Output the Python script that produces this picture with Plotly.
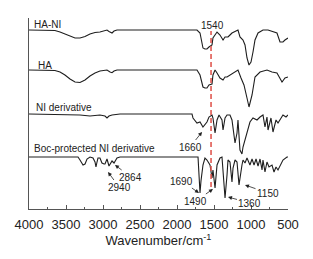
import plotly.graph_objects as go

# ---- data (wavenumber in cm^-1, relative transmittance, arbitrary units) ----
ha_ni_wn = [4000, 3851, 3649, 3581, 3514, 3446, 3378, 3311, 3243, 3176, 3108, 3041, 2986, 2946, 2919, 2878, 2851, 2811, 2365,
            1730, 1689, 1649, 1622, 1595, 1568, 1541, 1527, 1514, 1486, 1459, 1419, 1378, 1351, 1311, 1284, 1257, 1203, 1176,
            1149, 1108, 1081, 1054, 1027, 1000, 973, 946, 905, 838, 770, 703, 649, 608, 568, 541, 500]
ha_ni_t = [0, 0, -0.5, -2, -4, -6.5, -8, -8, -6.5, -4, -2.5, -2, -1, 0, -1.5, -3, -1, 0, 0,
           0, -3, -18, -19, -19, -17, -16, -15, -8, -5, -2, -5, -10, -7, -7, -5, -3, -1, 0,
           -7, -10, -15, -28, -35, -32, -22, -10, -3, 0, 0, -2, -3, -12, -12, -10, -8]

ha_wn = [4000, 3649, 3581, 3514, 3446, 3378, 3311, 3243, 3176, 3108, 3041, 2986, 2946, 2905, 2878, 2851, 2811, 2365,
         1730, 1689, 1649, 1622, 1595, 1568, 1527, 1514, 1486, 1459, 1419, 1378, 1351, 1324, 1284, 1216, 1176,
         1135, 1095, 1054, 1027, 986, 946, 878, 784, 716, 649, 581, 541, 500]
ha_t = [0, -0.5, -2, -5, -9, -12, -12.5, -10, -6, -3, -1, 0, 0, -2, -2.7, -1, 0, 0,
        0, -5, -17, -18, -18, -15, -14, -5, 0, -3, -8, -10, -7, -7, -5, -2, 0,
        -8, -15, -28, -37, -25, -7, -2, 0, -2, -3, -12, -8, -7]

ni_wn = [4000, 3581, 3311, 3176, 3041, 2973, 2946, 2919, 2878, 2770, 1797, 1784, 1730, 1689, 1649, 1595, 1568, 1527,
         1514, 1486, 1459, 1432, 1392, 1378, 1351, 1324, 1284, 1257, 1243, 1216, 1189, 1176, 1149, 1122, 1108, 1054,
         1014, 973, 919, 878, 838, 811, 784, 770, 730, 703, 662, 635, 595, 568, 527, 500]
ni_t = [0, -0.5, -1, -2, -1, -2, -4, -2, -1, 0, 0, -4, -9, -8, -13, -8, -3, -1,
        -4, -19, -6, -1, -6, -16, -4, -1, -1, -6, -16, -29, -19, -6, -36, -40, -33, -18,
        -8, -4, -6, -3, -1, -13, -3, -16, -4, -18, -6, -9, -4, -1, -3, -1]

boc_wn = [4000, 3338, 3311, 3270, 3243, 3216, 3176, 3135, 3108, 3095, 3081, 3068, 3041, 3014, 2986, 2973, 2946, 2919,
          2878, 2851, 2811, 2770, 1716, 1703, 1689, 1676, 1649, 1622, 1595, 1554, 1527, 1514, 1486, 1459, 1446, 1419,
          1392, 1378, 1351, 1324, 1311, 1284, 1257, 1243, 1216, 1189, 1162, 1122, 1108, 1081, 1054, 1014, 986, 959,
          932, 905, 878, 851, 838, 811, 784, 757, 716, 689, 662, 635, 595, 568, 514, 500]
boc_t = [0, 0, -3, -8, -7, -2, 0, -1, -5, -10, -5, -1, -1, -6, -7, -7, -2, -9,
         -4, -6, -1, 0, 0, -18, -36, -24, -8, -1, -3, -8, -21, -13, -31, -8, -6, -1,
         0, -15, -41, -18, -3, -5, -25, -11, -3, -5, -28, -8, -3, -6, -1, -8, -2, -8,
         -2, -9, -2, -13, -3, -15, -5, -10, -8, -15, -10, -13, -6, -3, 0, 0]

series_names = ["HA-NI", "HA", "NI derivative", "Boc-protected NI derivative"]
series_wn = [ha_ni_wn, ha_wn, ni_wn, boc_wn]
series_t = [ha_ni_t, ha_t, ni_t, boc_t]
offsets = [179, 139, 95, 52]
label_y = [184.5, 144, 102, 61]
label_wn = [3959, 3905, 3932, 3959]

tick_vals = [4000, 3500, 3000, 2500, 2000, 1500, 1000, 500]
marker_line_wn = 1540

# peak annotations: label, head wavenumber, head y, text offset (px)
peak_labels = ["2940", "2864", "1660", "1690", "1490", "1360", "1150"]
peak_head_wn = [2932, 2838, 1662, 1703, 1514, 1311, 1081]
peak_head_y = [37, 44, 77, 16, 20, 12, 24]
peak_ax = [11, 16, -12, -17, -17, 22, 23]
peak_ay = [15, 12, 15, -12, 12, 6, 8]

FONT = "Liberation Sans, Arial, sans-serif"

fig = go.Figure()
for name, wn, t, off in zip(series_names, series_wn, series_t, offsets):
    fig.add_trace(go.Scatter(x=wn, y=[v + off for v in t], mode="lines", name=name,
                             line=dict(color="#1e1e1e", width=1.1), showlegend=False, hoverinfo="skip"))

for name, x, y in zip(series_names, label_wn, label_y):
    fig.add_annotation(x=x, y=y, text=name, showarrow=False, xanchor="left", yanchor="middle",
                       font=dict(family=FONT, size=10, color="#222"))

fig.add_annotation(x=1527, y=184, text=str(marker_line_wn), showarrow=False, xanchor="center", yanchor="middle",
                   font=dict(family=FONT, size=10, color="#222"))

fig.add_shape(type="line", x0=marker_line_wn, x1=marker_line_wn, y0=22, y1=178, xref="x", yref="y",
              line=dict(color="#e05a52", width=1.6, dash="5px,3px"))

for lab, hx, hy, ax, ay in zip(peak_labels, peak_head_wn, peak_head_y, peak_ax, peak_ay):
    fig.add_annotation(x=hx, y=hy, text=lab, showarrow=True, ax=ax, ay=ay, arrowhead=2, arrowsize=1,
                       arrowwidth=0.8, arrowcolor="#222", standoff=0,
                       font=dict(family=FONT, size=10, color="#222"))

fig.update_layout(
    width=313, height=259,
    margin=dict(l=29, r=25, t=18, b=50, autoexpand=False),
    paper_bgcolor="white", plot_bgcolor="white",
    xaxis=dict(range=[4000, 500], tickvals=tick_vals, ticks="inside", ticklen=4, tickwidth=1,
               tickcolor="#555", showline=True, linecolor="#555", linewidth=1, showgrid=False, zeroline=False,
               tickfont=dict(family=FONT, size=13, color="#222"), ticklabelstandoff=3,
               minor=dict(dtick=250, tick0=500, ticks="inside", ticklen=2, tickcolor="#555"),
               title=dict(text="Wavenumber/cm<sup>-1</sup>", font=dict(family=FONT, size=13, color="#222"),
                          standoff=4)),
    yaxis=dict(range=[0, 191], showline=True, linecolor="#555", linewidth=1, showgrid=False,
               zeroline=False, showticklabels=False, ticks=""),
)

fig.write_html("out.html", config={"displayModeBar": False, "staticPlot": True},
               post_script="document.body.style.margin='0';document.body.style.padding='0';")
